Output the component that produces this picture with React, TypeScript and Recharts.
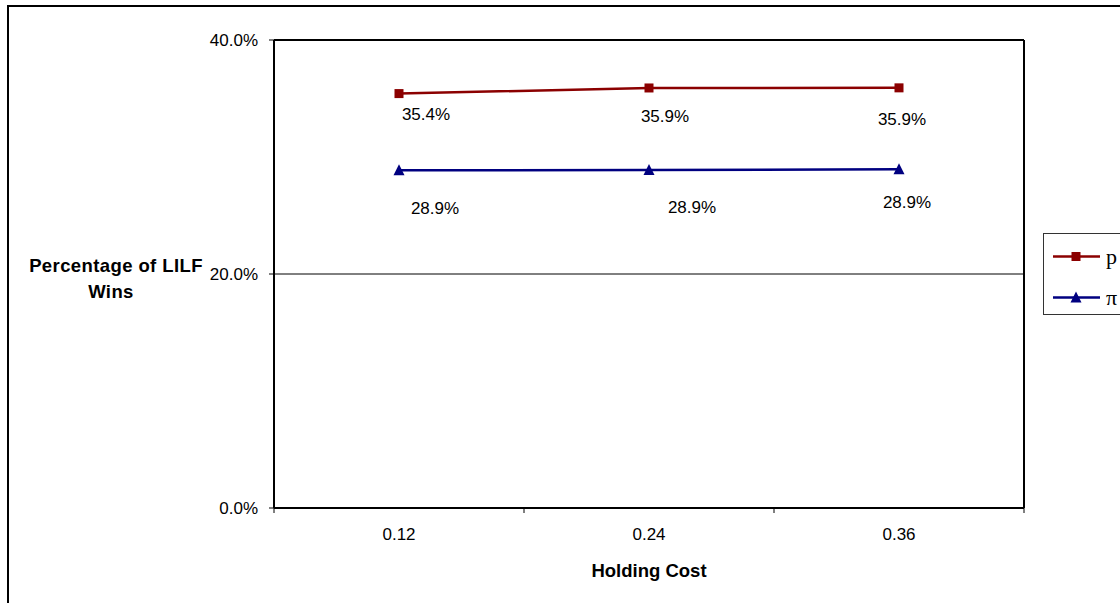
import { LineChart, Line, XAxis, YAxis, ReferenceLine, Legend, LabelList } from "recharts"

const costs = ["0.12", "0.24", "0.36"]
const pWins = [0.3542, 0.359, 0.3591]
const piWins = [0.2887, 0.2888, 0.2895]
const yTicks = [0, 0.2, 0.4]

const data = costs.map((cost, i) => ({ cost, p: pWins[i], pi: piWins[i] }))

// label nudges, picked to sit where the original placed them
const pShift = [[27, 21], [16, 29], [3, 32]]
const piShift = [[36, 38], [43, 37], [8, 33]]

const RED = "#8B0000"
const NAVY = "#000080"
const SANS = "'Liberation Sans', Arial, sans-serif"
const PLOT_W = 750
const HALF = PLOT_W / costs.length / 2
const X_TICK_GAP = 19.5

const pct = (v: number) => `${(v * 100).toFixed(1)}%`

function Square(props: any) {
  const { cx, cy } = props
  if (cx == null || cy == null) return null
  return <rect x={cx - 4.5} y={cy - 4.5} width={9} height={9} fill={RED} />
}

function Triangle(props: any) {
  const { cx, cy } = props
  if (cx == null || cy == null) return null
  return <path d={`M${cx},${cy - 6} L${cx + 5.5},${cy + 5} L${cx - 5.5},${cy + 5} Z`} fill={NAVY} />
}

function makeLabel(shift: number[][]) {
  return (props: any) => {
    const { x, y, value, index } = props
    const [dx, dy] = shift[index] || [0, 0]
    return (
      <text x={x + dx} y={y + dy} textAnchor="middle" dominantBaseline="central" fontSize={17} fontFamily={SANS} fill="#000">
        {pct(value)}
      </text>
    )
  }
}

// category label at the centre, tick marks on the category boundaries
function CostTick(props: any) {
  const { x, y, payload, index } = props
  const half = payload.offset || HALF
  const axisY = y - X_TICK_GAP
  return (
    <g>
      <line x1={x - half} y1={axisY} x2={x - half} y2={axisY + 5} stroke="#000" />
      {index === costs.length - 1 && <line x1={x + half} y1={axisY} x2={x + half} y2={axisY + 5} stroke="#000" />}
      <text x={x} y={y} dy="0.71em" textAnchor="middle" fontSize={17} fontFamily={SANS} fill="#000">
        {payload.value}
      </text>
    </g>
  )
}

function YLabel(props: any) {
  const vb = props.viewBox
  const cx = vb.x - 78
  const cy = vb.y + vb.height / 2
  return (
    <text textAnchor="middle" fontSize={18.5} fontWeight="bold" fontFamily={SANS} letterSpacing={0.4} fill="#000">
      <tspan x={cx} y={cy - 2}>Percentage of LILF</tspan>
      <tspan x={cx - 5} y={cy + 23.5}>Wins</tspan>
    </text>
  )
}

function XLabel(props: any) {
  const vb = props.viewBox
  return (
    <text x={vb.x + vb.width / 2} y={vb.y + 68.5} textAnchor="middle" fontSize={18.5} fontWeight="bold" fontFamily={SANS} fill="#000">
      Holding Cost
    </text>
  )
}

function LegendBox(props: any) {
  const items = props.payload || []
  return (
    <div style={{ border: "1px solid #333", background: "#fff", width: 130, height: 82, boxSizing: "border-box", paddingTop: 2 }}>
      {items.map((item: any) => (
        <div key={item.value} style={{ display: "flex", alignItems: "center", height: 41 }}>
          <svg width={60} height={41}>
            <line x1={9} y1={20.5} x2={56} y2={20.5} stroke={item.color} strokeWidth={2.5} />
            {item.dataKey === "p" ? (
              <rect x={27.5} y={16} width={9} height={9} fill={item.color} />
            ) : (
              <path d="M32,14.5 L37.5,25.5 L26.5,25.5 Z" fill={item.color} />
            )}
          </svg>
          <span style={{ fontFamily: "'Liberation Serif', 'Times New Roman', serif", fontSize: 22, lineHeight: 1, color: "#000", marginLeft: 2 }}>
            {item.value}
          </span>
        </div>
      ))}
    </div>
  )
}

export default function App() {
  return (
    <div style={{ position: "absolute", left: 0, top: 0, width: 1120, height: 603, overflow: "hidden", background: "#fff" }}>
      <div style={{ position: "absolute", left: 7, top: 5, width: 1300, height: 800, border: "2px solid #000" }} />
      <div style={{ position: "absolute", left: 0, top: 0 }}>
        <LineChart width={1120} height={603} data={data} margin={{ top: 40, right: 96, bottom: 55, left: 194 }}>
          <XAxis
            dataKey="cost"
            scale="band"
            axisLine={{ stroke: "#000", strokeWidth: 2 }}
            tickLine={false}
            tickSize={8}
            tickMargin={X_TICK_GAP - 8}
            height={40}
            tick={<CostTick />}
            label={{ content: XLabel }}
          />
          <YAxis
            domain={[0, 0.4]}
            ticks={yTicks}
            tickFormatter={pct}
            width={80}
            tickSize={5}
            tickMargin={11}
            tickLine={{ stroke: "#000", strokeWidth: 1 }}
            axisLine={{ stroke: "#000", strokeWidth: 2 }}
            tick={{ fill: "#000", fontSize: 17, fontFamily: SANS }}
            label={{ content: YLabel }}
          />
          <ReferenceLine y={0.2} stroke="#000" strokeWidth={1} />
          <ReferenceLine y={0.4} stroke="#000" strokeWidth={2} />
          <ReferenceLine x={costs[costs.length - 1]} position="end" stroke="#000" strokeWidth={2} />
          <Legend
            layout="vertical"
            align="center"
            verticalAlign="middle"
            content={LegendBox}
            wrapperStyle={{ left: 1043, top: 233, width: 130 }}
          />
          <Line
            dataKey="p"
            name="p"
            stroke={RED}
            strokeWidth={2.5}
            dot={<Square />}
            activeDot={false}
            isAnimationActive={false}
          >
            <LabelList dataKey="p" content={makeLabel(pShift)} />
          </Line>
          <Line
            dataKey="pi"
            name="π"
            stroke={NAVY}
            strokeWidth={2.5}
            dot={<Triangle />}
            activeDot={false}
            isAnimationActive={false}
          >
            <LabelList dataKey="pi" content={makeLabel(piShift)} />
          </Line>
        </LineChart>
      </div>
    </div>
  )
}
